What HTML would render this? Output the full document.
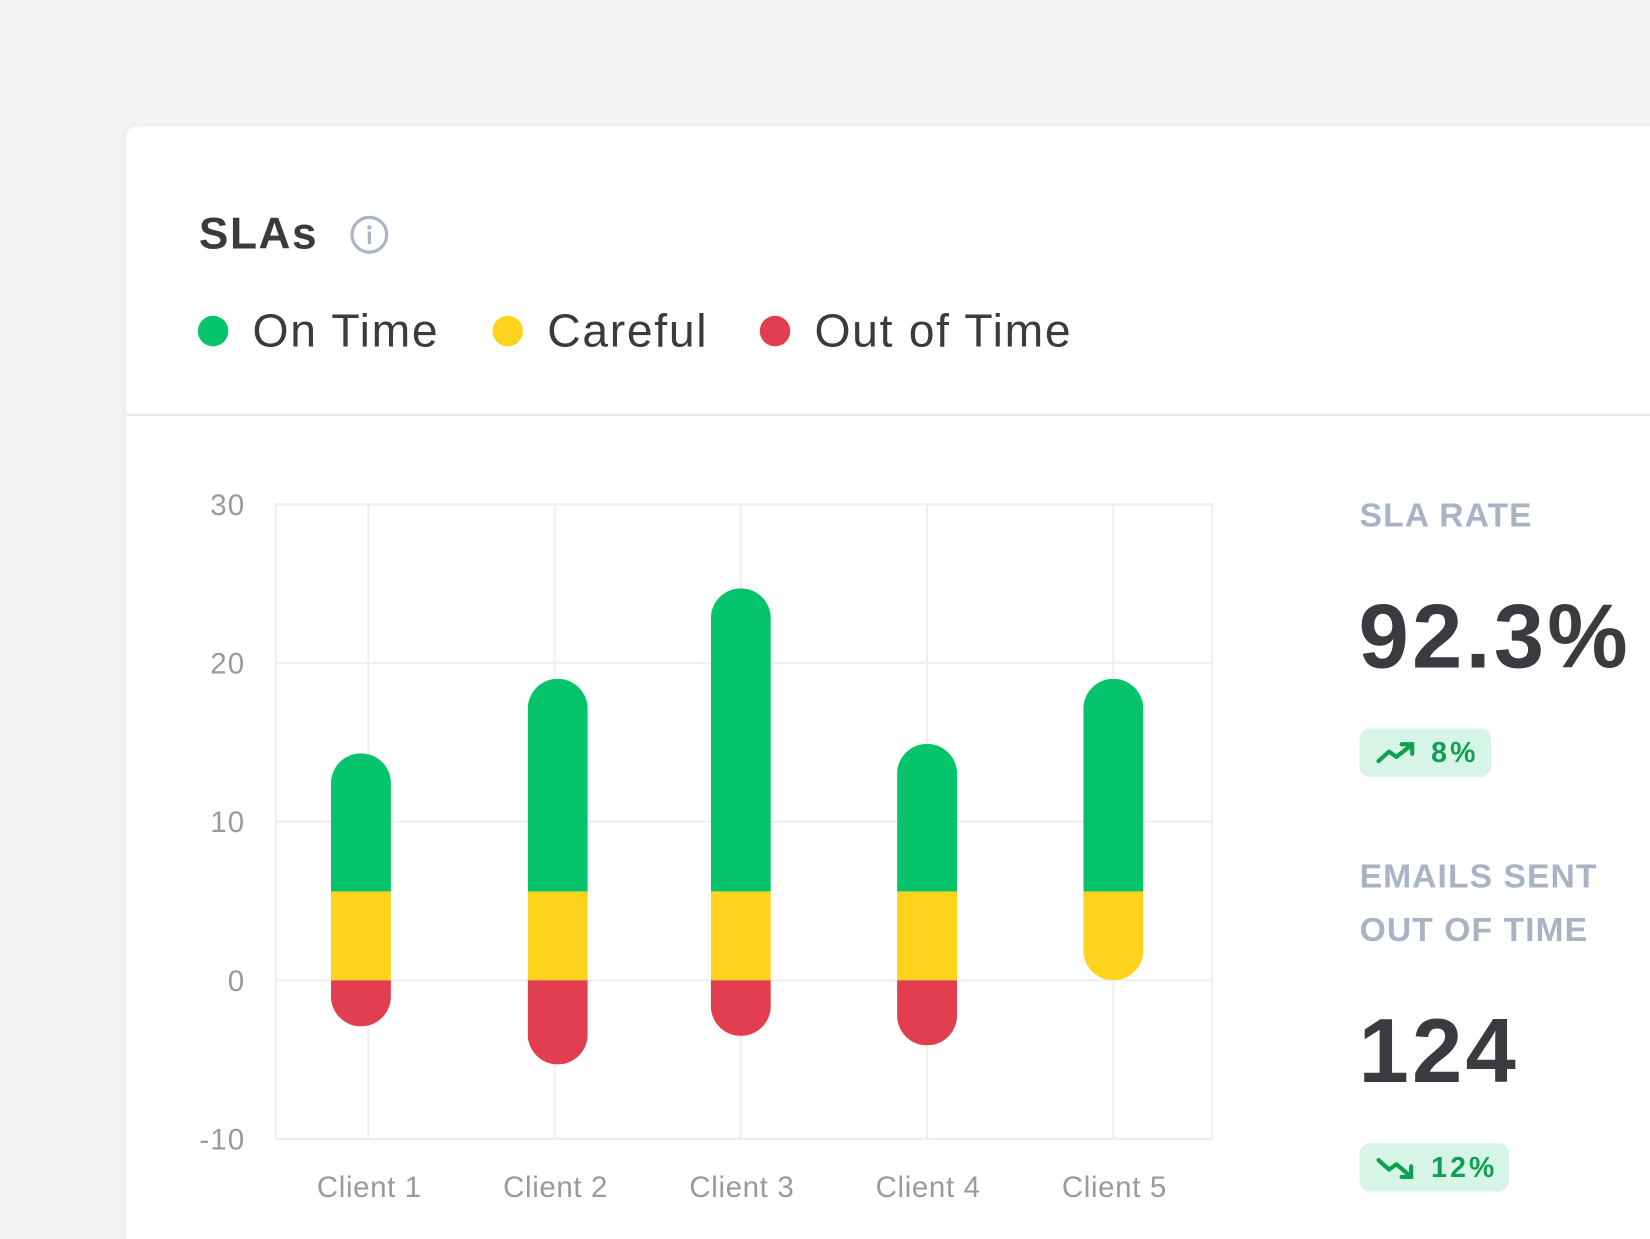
<!DOCTYPE html>
<html><head><meta charset="utf-8">
<style>
html,body{margin:0;padding:0;width:1650px;height:1239px;overflow:hidden;background:#f3f4f6;font-family:"Liberation Sans",sans-serif;}
#wrap{position:absolute;left:0;top:0;width:1568px;height:1177px;overflow:hidden;transform:scale(1.0523,1.0527);transform-origin:0 0;}
#card{position:absolute;left:120px;top:120px;width:1460px;height:1057px;background:#fff;border-radius:10px 0 0 0;box-shadow:-2px 0 10px rgba(0,0,0,0.04);}
.abs{position:absolute;white-space:nowrap;}
.lbl{color:#a9b3c4;font-weight:bold;font-size:32px;letter-spacing:1px;}
.big{color:#3a3b3f;font-weight:bold;font-size:86px;letter-spacing:3px;}
.badge{background:#d6f5e6;border-radius:10px;color:#0fa054;font-weight:bold;font-size:27px;letter-spacing:3px;}
</style></head><body>
<div id="wrap">
<div id="card"></div>
<div class="abs" style="left:189px;top:198px;font-size:42px;font-weight:bold;color:#3a3b3f;letter-spacing:1.5px;">SLAs</div>
<svg class="abs" style="left:332px;top:204px" width="38" height="38"><circle cx="19" cy="19" r="16.5" fill="none" stroke="#aab4c4" stroke-width="3"/><circle cx="19" cy="12" r="2" fill="#aab4c4"/><rect x="17.5" y="16" width="3" height="12" fill="#aab4c4"/></svg>
<div class="abs" style="left:188px;top:290px;font-size:44px;color:#3a3b3f;height:50px;letter-spacing:1.6px;">
 <span style="position:absolute;left:0;top:0"><span style="position:absolute;left:0;top:10px;width:29px;height:29px;border-radius:50%;background:#05c46b"></span><span style="position:absolute;left:52px;top:0">On Time</span></span>
 <span style="position:absolute;left:280px;top:0"><span style="position:absolute;left:0;top:10px;width:29px;height:29px;border-radius:50%;background:#fed31d"></span><span style="position:absolute;left:52px;top:0">Careful</span></span>
 <span style="position:absolute;left:534px;top:0"><span style="position:absolute;left:0;top:10px;width:29px;height:29px;border-radius:50%;background:#e13e4f"></span><span style="position:absolute;left:52px;top:0">Out of Time</span></span>
</div>
<div class="abs" style="left:120px;top:393px;width:1448px;height:2px;background:#e7e9ec"></div>
<svg id="chart" class="abs" style="left:0;top:0" width="1200" height="1177"></svg>
<div class="abs lbl" style="left:1292px;top:471px;">SLA RATE</div>
<div class="abs big" style="left:1291px;top:556px;">92.3%</div>
<div class="abs badge" style="left:1292px;top:692px;width:125px;height:46px;">
 <svg style="position:absolute;left:16px;top:12px" width="38" height="22"><polyline points="2,19 12,10 19,15 33,4" fill="none" stroke="#0fa054" stroke-width="4" stroke-linejoin="round" stroke-linecap="round"/><polyline points="24,3 34,3 34,12" fill="none" stroke="#0fa054" stroke-width="4" stroke-linecap="round"/></svg>
 <span style="position:absolute;left:68px;top:8px">8%</span></div>
<div class="abs lbl" style="left:1292px;top:807px;line-height:51px;">EMAILS SENT<br>OUT OF TIME</div>
<div class="abs big" style="left:1291px;top:950px;">124</div>
<div class="abs badge" style="left:1292px;top:1086px;width:142px;height:46px;">
 <svg style="position:absolute;left:16px;top:12px" width="38" height="24"><polyline points="2,4 12,13 19,8 32,19" fill="none" stroke="#0fa054" stroke-width="4" stroke-linejoin="round" stroke-linecap="round"/><polyline points="33,10 33,20 24,20" fill="none" stroke="#0fa054" stroke-width="4" stroke-linecap="round"/></svg>
 <span style="position:absolute;left:68px;top:8px">12%</span></div>
</div>
<script>
const categories = ["Client 1","Client 2","Client 3","Client 4","Client 5"];
const careful = [5.6, 5.6, 5.6, 5.6, 5.6];
const onTime = [8.7, 13.4, 19.1, 9.3, 13.4];
const outOfTime = [-2.9, -5.3, -3.5, -4.1, 0];
const yTicks = [30, 20, 10, 0, -10];

const svg = document.getElementById('chart');
const NS = 'http://www.w3.org/2000/svg';
const L = 262, R = 1152, T = 479, B = 1082, yMin = -10, yMax = 30;
const y = v => B - (v - yMin) / (yMax - yMin) * (B - T);
const xc = i => 350 + i * 177;
const bw = 57;
function mk(tag, attrs) { const e = document.createElementNS(NS, tag); for (const k in attrs) e.setAttribute(k, attrs[k]); svg.appendChild(e); return e; }

const frame = mk('rect', {x: L, y: T, width: R - L, height: B - T, fill: 'none', stroke: '#efefef', 'stroke-width': 2});


yTicks.forEach(t => {
  const g = mk('line', {x1: L, x2: R, y1: y(t), y2: y(t), stroke: '#efefef', 'stroke-width': 2});
  
  
  const tx = mk('text', {x: 233, y: y(t) + 10, 'text-anchor': 'end', 'font-size': 28, fill: '#9a9a9a', 'font-family': 'Liberation Sans, sans-serif', 'letter-spacing': 1});
  tx.textContent = t;
  
  
});
categories.forEach((c, i) => {
  const g = mk('line', {x1: xc(i), x2: xc(i), y1: T, y2: B, stroke: '#efefef', 'stroke-width': 2});
  
  
  const tx = mk('text', {x: xc(i) + 1, y: 1137, 'text-anchor': 'middle', 'font-size': 28, fill: '#9a9a9a', 'font-family': 'Liberation Sans, sans-serif', 'letter-spacing': 0.6});
  tx.textContent = c;
  
  
});
categories.forEach((c, i) => {
  const top = careful[i] + onTime[i];
  const bot = outOfTime[i] < 0 ? outOfTime[i] : 0;
  const cx = xc(i) + (i === 0 ? -7 : (i === 1 ? 3 : 0));
  const cp = document.createElementNS(NS, 'clipPath');
  cp.setAttribute('id', 'clip' + i);
  const cr = document.createElementNS(NS, 'rect');
  const yt = y(top), yb = y(bot);
  Object.entries({x: cx - bw / 2, y: yt, width: bw, height: yb - yt, rx: bw / 2, ry: bw / 2}).forEach(([k, v]) => cr.setAttribute(k, v));
  cp.appendChild(cr); svg.appendChild(cp);
  const g = mk('g', {'clip-path': 'url(#clip' + i + ')'});
  
  
  const segs = [[careful[i], top, '#05c46b', 'on-time'], [0, careful[i], '#fed31d', 'careful'], [bot, 0, '#e13e4f', 'out-of-time']];
  segs.forEach(([a, b, col, nm]) => {
    if (b <= a) return;
    const r = document.createElementNS(NS, 'rect');
    r.setAttribute('x', cx - bw / 2); r.setAttribute('y', y(b));
    r.setAttribute('width', bw); r.setAttribute('height', y(a) - y(b));
    r.setAttribute('fill', col);
    
    
    g.appendChild(r);
  });
});
</script>
</body></html>
